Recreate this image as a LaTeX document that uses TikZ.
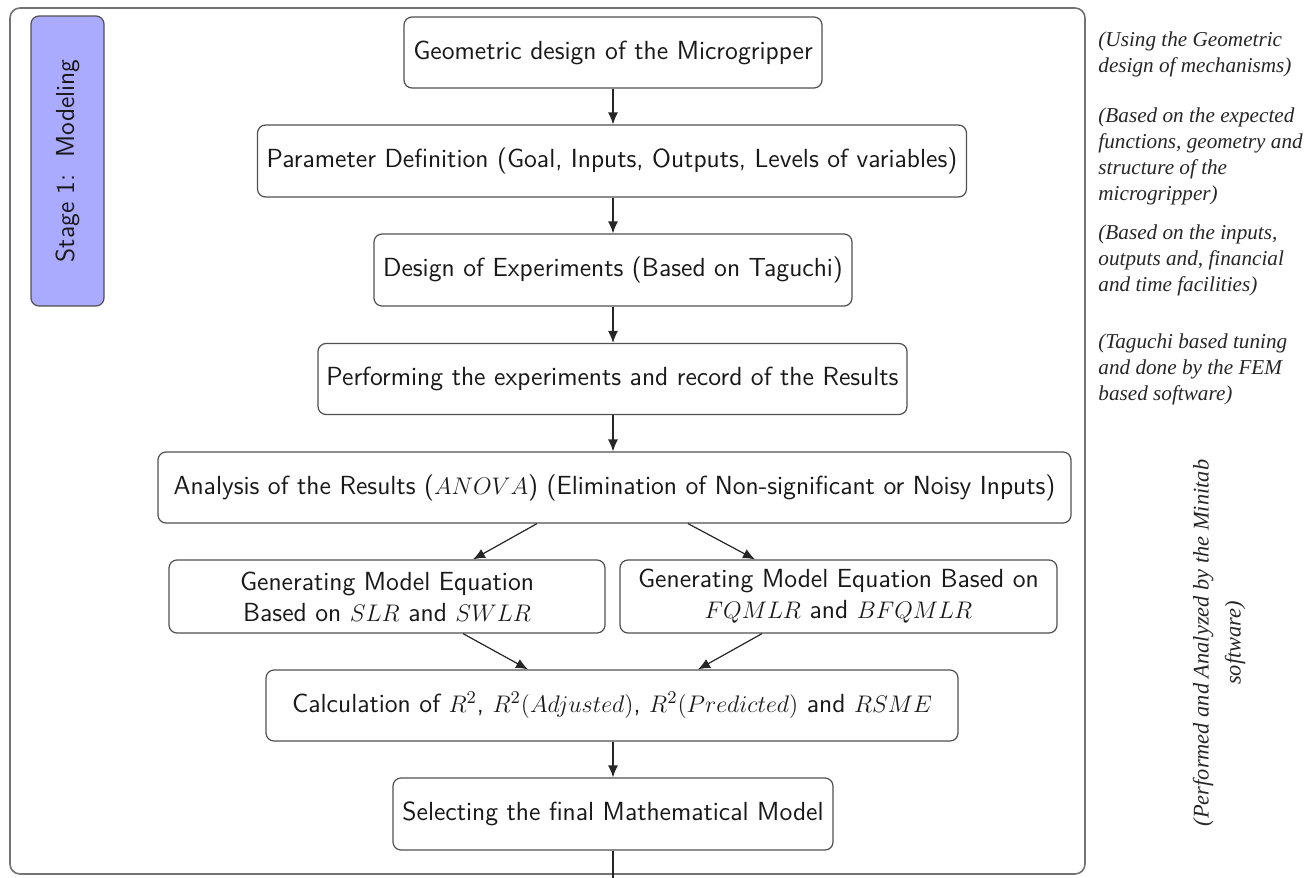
\documentclass[tikz,border=0pt]{standalone}
\usepackage{fontspec}
\newfontfamily\notefont{Liberation Serif}
\usetikzlibrary{arrows.meta}
\definecolor{stagefill}{RGB}{170,170,255}
\definecolor{boxline}{RGB}{80,80,80}
\definecolor{frameline}{RGB}{115,115,115}
\begin{document}
\begin{tikzpicture}[x=0.5pt,y=-0.5pt,
  box/.style={draw=boxline, line width=0.6pt, rounded corners=4pt, align=center, inner sep=0pt,
    font=\fontsize{13.1}{15.5}\selectfont\sffamily, text=black!90},
  arr/.style={draw=black!85, line width=0.6pt, -{Latex[length=6pt,width=5pt]}},
  plainline/.style={draw=black!85, line width=0.6pt},
  note/.style={font=\fontsize{10.6}{13}\selectfont\notefont\itshape, align=left, inner sep=0pt,
    anchor=north west, text=black!85},
  sidenote/.style={font=\fontsize{11.2}{16}\selectfont\notefont\itshape, align=center, inner sep=0pt,
    anchor=center, text=black!85},
  stagebox/.style={draw=boxline, fill=stagefill, line width=0.6pt, rounded corners=4pt, inner sep=0pt,
    font=\fontsize{13}{15}\selectfont\sffamily, text=black!90}]
\useasboundingbox (0,0) rectangle (1312,878);
% outer frame
\draw[frameline, line width=0.8pt, rounded corners=5pt] (10,8) rectangle (1085,874);
% stage label
\node[stagebox, rotate=90, minimum width=145pt, minimum height=36.5pt] (stage) at (67.5,161) {Stage 1:~~Modeling};
% boxes
\node[box, minimum width=209pt, minimum height=35.5pt] (b1) at (613,52.5) {Geometric design of the Microgripper};
\node[box, minimum width=354.5pt, minimum height=36pt] (b2) at (612,161) {Parameter Definition (Goal, Inputs, Outputs, Levels of variables)};
\node[box, minimum width=239pt, minimum height=36pt] (b3) at (613,270) {Design of Experiments (Based on Taguchi)};
\node[box, minimum width=294.5pt, minimum height=35.5pt] (b4) at (612.5,379) {Performing the experiments and record of the Results};
\node[box, minimum width=456.5pt, minimum height=35.5pt] (b5) at (614.5,487.5) {Analysis of the Results ($ANOVA$) (Elimination of Non-significant or Noisy Inputs)};
\node[box, minimum width=218pt, minimum height=36.5pt] (b6a) at (387,596.5) {Generating Model Equation\\Based on $SLR$ and $SWLR$};
\node[box, minimum width=218.5pt, minimum height=36.5pt] (b6b) at (838.5,596.5) {Generating Model Equation Based on\\$FQMLR$ and $BFQMLR$};
\node[box, minimum width=346pt, minimum height=35.5pt] (b7) at (612,705.5) {Calculation of $R^2$, $R^2(Adjusted)$, $R^2(Predicted)$ and $RSME$};
\node[box, minimum width=220pt, minimum height=36pt] (b8) at (613,814) {Selecting the final Mathematical Model};
\coordinate (bottomend) at (613,878);
% connectors
\draw[arr] (b1.south) -- (b1.south |- b2.north);
\draw[arr] (b2.south -| b1.south) -- (b1.south |- b3.north);
\draw[arr] (b3.south) -- (b3.south |- b4.north);
\draw[arr] (b4.south -| b3.south) -- (b3.south |- b5.north);
\draw[arr] ([xshift=-38.75pt]b5.south) -- ([xshift=43pt]b6a.north);
\draw[arr] ([xshift=36.75pt]b5.south) -- ([xshift=-41.75pt]b6b.north);
\draw[arr] ([xshift=38pt]b6a.south) -- ([xshift=-42pt]b7.north);
\draw[arr] ([xshift=-38.25pt]b6b.south) -- ([xshift=43pt]b7.north);
\draw[arr] (b7.south -| b8.south) -- (b8.north);
\draw[plainline] (b8.south) -- (b8.south |- bottomend);
% notes
\node[note] (n1) at (1098,31) {(Using the Geometric\\design of mechanisms)};
\node[note] (n2) at (1098,107) {(Based on the expected\\functions, geometry and\\structure of the\\microgripper)};
\node[note] (n3) at (1098,224) {(Based on the inputs,\\outputs and, financial\\and time facilities)};
\node[note] (n4) at (1098,333) {(Taguchi based tuning\\and done by the FEM\\based software)};
\node[sidenote, rotate=90] (n5) at (1219,643) {(Performed and Analyzed by the Minitab\\software)};
\end{tikzpicture}
\end{document}
